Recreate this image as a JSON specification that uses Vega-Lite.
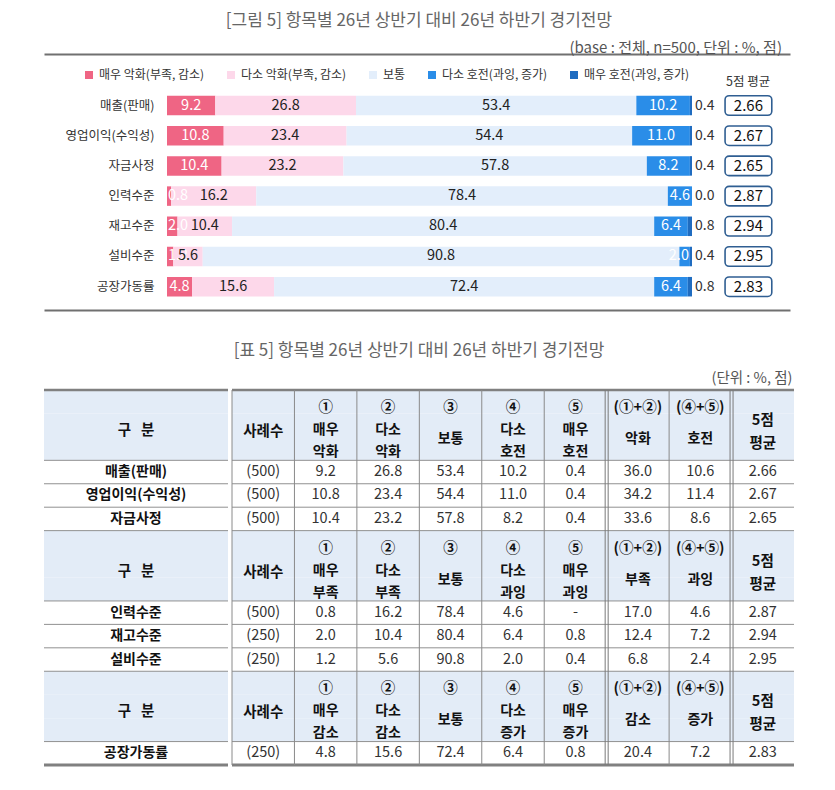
{
  "$schema": "https://vega.github.io/schema/vega-lite/v6.json",
  "padding": {"left": 42, "top": 12, "right": 0, "bottom": 0},
  "background": "white",
  "config": {
    "font": "Noto Sans CJK KR",
    "view": {"stroke": null},
    "title": {"font": "Noto Sans CJK KR", "fontWeight": "normal", "color": "#666666"},
    "concat": {"spacing": 0}
  },
  "datasets": {
    "bars": [
      {"item": "매출(판매)", "cat": "매우 악화(부족, 감소)", "order": 1, "value": 9.2},
      {"item": "매출(판매)", "cat": "다소 악화(부족, 감소)", "order": 2, "value": 26.8},
      {"item": "매출(판매)", "cat": "보통", "order": 3, "value": 53.4},
      {"item": "매출(판매)", "cat": "다소 호전(과잉, 증가)", "order": 4, "value": 10.2},
      {"item": "매출(판매)", "cat": "매우 호전(과잉, 증가)", "order": 5, "value": 0.4},
      {"item": "영업이익(수익성)", "cat": "매우 악화(부족, 감소)", "order": 1, "value": 10.8},
      {"item": "영업이익(수익성)", "cat": "다소 악화(부족, 감소)", "order": 2, "value": 23.4},
      {"item": "영업이익(수익성)", "cat": "보통", "order": 3, "value": 54.4},
      {"item": "영업이익(수익성)", "cat": "다소 호전(과잉, 증가)", "order": 4, "value": 11.0},
      {"item": "영업이익(수익성)", "cat": "매우 호전(과잉, 증가)", "order": 5, "value": 0.4},
      {"item": "자금사정", "cat": "매우 악화(부족, 감소)", "order": 1, "value": 10.4},
      {"item": "자금사정", "cat": "다소 악화(부족, 감소)", "order": 2, "value": 23.2},
      {"item": "자금사정", "cat": "보통", "order": 3, "value": 57.8},
      {"item": "자금사정", "cat": "다소 호전(과잉, 증가)", "order": 4, "value": 8.2},
      {"item": "자금사정", "cat": "매우 호전(과잉, 증가)", "order": 5, "value": 0.4},
      {"item": "인력수준", "cat": "매우 악화(부족, 감소)", "order": 1, "value": 0.8},
      {"item": "인력수준", "cat": "다소 악화(부족, 감소)", "order": 2, "value": 16.2},
      {"item": "인력수준", "cat": "보통", "order": 3, "value": 78.4},
      {"item": "인력수준", "cat": "다소 호전(과잉, 증가)", "order": 4, "value": 4.6},
      {"item": "인력수준", "cat": "매우 호전(과잉, 증가)", "order": 5, "value": 0.0},
      {"item": "재고수준", "cat": "매우 악화(부족, 감소)", "order": 1, "value": 2.0},
      {"item": "재고수준", "cat": "다소 악화(부족, 감소)", "order": 2, "value": 10.4},
      {"item": "재고수준", "cat": "보통", "order": 3, "value": 80.4},
      {"item": "재고수준", "cat": "다소 호전(과잉, 증가)", "order": 4, "value": 6.4},
      {"item": "재고수준", "cat": "매우 호전(과잉, 증가)", "order": 5, "value": 0.8},
      {"item": "설비수준", "cat": "매우 악화(부족, 감소)", "order": 1, "value": 1.2},
      {"item": "설비수준", "cat": "다소 악화(부족, 감소)", "order": 2, "value": 5.6},
      {"item": "설비수준", "cat": "보통", "order": 3, "value": 90.8},
      {"item": "설비수준", "cat": "다소 호전(과잉, 증가)", "order": 4, "value": 2.0},
      {"item": "설비수준", "cat": "매우 호전(과잉, 증가)", "order": 5, "value": 0.4},
      {"item": "공장가동률", "cat": "매우 악화(부족, 감소)", "order": 1, "value": 4.8},
      {"item": "공장가동률", "cat": "다소 악화(부족, 감소)", "order": 2, "value": 15.6},
      {"item": "공장가동률", "cat": "보통", "order": 3, "value": 72.4},
      {"item": "공장가동률", "cat": "다소 호전(과잉, 증가)", "order": 4, "value": 6.4},
      {"item": "공장가동률", "cat": "매우 호전(과잉, 증가)", "order": 5, "value": 0.8}
    ],
    "table": [
      {"item": "매출(판매)", "n": "(500)", "c1": "9.2", "c2": "26.8", "c3": "53.4", "c4": "10.2", "c5": "0.4", "s12": "36.0", "s45": "10.6", "avg": "2.66"},
      {"item": "영업이익(수익성)", "n": "(500)", "c1": "10.8", "c2": "23.4", "c3": "54.4", "c4": "11.0", "c5": "0.4", "s12": "34.2", "s45": "11.4", "avg": "2.67"},
      {"item": "자금사정", "n": "(500)", "c1": "10.4", "c2": "23.2", "c3": "57.8", "c4": "8.2", "c5": "0.4", "s12": "33.6", "s45": "8.6", "avg": "2.65"},
      {"item": "인력수준", "n": "(500)", "c1": "0.8", "c2": "16.2", "c3": "78.4", "c4": "4.6", "c5": "-", "s12": "17.0", "s45": "4.6", "avg": "2.87"},
      {"item": "재고수준", "n": "(250)", "c1": "2.0", "c2": "10.4", "c3": "80.4", "c4": "6.4", "c5": "0.8", "s12": "12.4", "s45": "7.2", "avg": "2.94"},
      {"item": "설비수준", "n": "(250)", "c1": "1.2", "c2": "5.6", "c3": "90.8", "c4": "2.0", "c5": "0.4", "s12": "6.8", "s45": "2.4", "avg": "2.95"},
      {"item": "공장가동률", "n": "(250)", "c1": "4.8", "c2": "15.6", "c3": "72.4", "c4": "6.4", "c5": "0.8", "s12": "20.4", "s45": "7.2", "avg": "2.83"}
    ],
    "rows": [
      {"key": "h1t", "kind": "htop"}, {"key": "h1", "kind": "hmid"}, {"key": "h1b", "kind": "hbot"},
      {"key": "매출(판매)", "kind": "item"}, {"key": "영업이익(수익성)", "kind": "item"}, {"key": "자금사정", "kind": "item"},
      {"key": "h2t", "kind": "htop"}, {"key": "h2", "kind": "hmid"}, {"key": "h2b", "kind": "hbot"},
      {"key": "인력수준", "kind": "item"}, {"key": "재고수준", "kind": "item"}, {"key": "설비수준", "kind": "item"},
      {"key": "h3t", "kind": "htop"}, {"key": "h3", "kind": "hmid"}, {"key": "h3b", "kind": "hbot"},
      {"key": "공장가동률", "kind": "item"}
    ],
    "headers": [
      {"sec": "h1", "col": "n", "mid": "사례수"},
      {"sec": "h1", "col": "c1", "sym": "①", "lab": "매우\n악화"},
      {"sec": "h1", "col": "c2", "sym": "②", "lab": "다소\n악화"},
      {"sec": "h1", "col": "c3", "sym": "③", "lab": "보통"},
      {"sec": "h1", "col": "c4", "sym": "④", "lab": "다소\n호전"},
      {"sec": "h1", "col": "c5", "sym": "⑤", "lab": "매우\n호전"},
      {"sec": "h1", "col": "s12", "sym": "(①+②)", "lab": "악화"},
      {"sec": "h1", "col": "s45", "sym": "(④+⑤)", "lab": "호전"},
      {"sec": "h1", "col": "avg", "mid": "5점\n평균"},
      {"sec": "h2", "col": "n", "mid": "사례수"},
      {"sec": "h2", "col": "c1", "sym": "①", "lab": "매우\n부족"},
      {"sec": "h2", "col": "c2", "sym": "②", "lab": "다소\n부족"},
      {"sec": "h2", "col": "c3", "sym": "③", "lab": "보통"},
      {"sec": "h2", "col": "c4", "sym": "④", "lab": "다소\n과잉"},
      {"sec": "h2", "col": "c5", "sym": "⑤", "lab": "매우\n과잉"},
      {"sec": "h2", "col": "s12", "sym": "(①+②)", "lab": "부족"},
      {"sec": "h2", "col": "s45", "sym": "(④+⑤)", "lab": "과잉"},
      {"sec": "h2", "col": "avg", "mid": "5점\n평균"},
      {"sec": "h3", "col": "n", "mid": "사례수"},
      {"sec": "h3", "col": "c1", "sym": "①", "lab": "매우\n감소"},
      {"sec": "h3", "col": "c2", "sym": "②", "lab": "다소\n감소"},
      {"sec": "h3", "col": "c3", "sym": "③", "lab": "보통"},
      {"sec": "h3", "col": "c4", "sym": "④", "lab": "다소\n증가"},
      {"sec": "h3", "col": "c5", "sym": "⑤", "lab": "매우\n증가"},
      {"sec": "h3", "col": "s12", "sym": "(①+②)", "lab": "감소"},
      {"sec": "h3", "col": "s45", "sym": "(④+⑤)", "lab": "증가"},
      {"sec": "h3", "col": "avg", "mid": "5점\n평균"}
    ]
  },
  "title": {"text": "[그림 5] 항목별 26년 상반기 대비 26년 하반기 경기전망", "fontSize": 17, "offset": 11, "anchor": "middle"},
  "spacing": 32,
  "vconcat": [
    {
      "title": {"text": "(base : 전체, n=500, 단위 : %, 점)", "anchor": "end", "fontSize": 15, "color": "#555555", "offset": -2, "dx": -8},
      "width": 746,
      "height": 256,
      "layer": [
        {
          "data": {"name": "bars"},
          "transform": [{"stack": "value", "groupby": ["item"], "sort": [{"field": "order", "order": "ascending"}], "as": ["v0", "v1"]}],
          "mark": {"type": "bar"},
          "encoding": {
            "x": {"field": "v0", "type": "quantitative", "scale": {"domain": [-23.43, 118.67], "zero": false, "nice": false},
                  "axis": {"orient": "top", "domain": true, "domainColor": "#707070", "domainWidth": 2, "ticks": false, "labels": false, "grid": false, "title": null}},
            "x2": {"field": "v1"},
            "y": {"field": "item", "type": "nominal", "sort": null,
                  "scale": {"type": "band", "domain": ["매출(판매)", "영업이익(수익성)", "자금사정", "인력수준", "재고수준", "설비수준", "공장가동률"], "paddingInner": 0.354, "paddingOuter": 0.9156, "align": 0.755},
                  "axis": {"title": null, "ticks": false, "domain": false, "offset": -123, "labelPadding": 13, "labelFontSize": 12.5, "labelColor": "#333333", "labelFont": "Noto Sans CJK KR"}},
            "color": {"field": "cat", "type": "nominal",
                      "scale": {"domain": ["매우 악화(부족, 감소)", "다소 악화(부족, 감소)", "보통", "다소 호전(과잉, 증가)", "매우 호전(과잉, 증가)"], "range": ["#ef6584", "#fdd8ea", "#e3eefb", "#2a8de8", "#1f6cc0"]},
                      "legend": {"orient": "none", "legendX": 39, "legendY": 15, "direction": "horizontal", "columns": 5, "title": null, "symbolType": "square", "symbolSize": 64, "symbolStrokeWidth": 0, "labelFontSize": 12, "labelColor": "#333333", "labelFont": "Noto Sans CJK KR", "columnPadding": 20, "labelOffset": 4, "padding": 0}}
          }
        },
        {
          "data": {"name": "bars"},
          "transform": [
            {"stack": "value", "groupby": ["item"], "sort": [{"field": "order", "order": "ascending"}], "as": ["v0", "v1"]},
            {"filter": "datum.order < 5"},
            {"calculate": "datum.order === 1 ? max((datum.v0 + datum.v1) / 2, 2.1) : (datum.order === 4 ? min((datum.v0 + datum.v1) / 2, datum.v1 - 2.1) : (datum.v0 + datum.v1) / 2)", "as": "mid"}
          ],
          "mark": {"type": "text", "fontSize": 14.5},
          "encoding": {
            "x": {"field": "mid", "type": "quantitative",
                  "axis": {"orient": "bottom", "domain": true, "domainColor": "#707070", "domainWidth": 2, "ticks": false, "labels": false, "grid": false, "title": null}},
            "y": {"field": "item", "type": "nominal", "sort": null},
            "text": {"field": "value", "type": "quantitative", "format": ".1f"},
            "color": {"condition": {"test": "datum.order === 1 || datum.order === 4", "value": "#ffffff"}, "value": "#222222"}
          }
        },
        {
          "data": {"name": "bars"},
          "transform": [
            {"stack": "value", "groupby": ["item"], "sort": [{"field": "order", "order": "ascending"}], "as": ["v0", "v1"]},
            {"filter": "datum.order === 5"}
          ],
          "mark": {"type": "text", "align": "left", "dx": 3, "fontSize": 14, "color": "#333333"},
          "encoding": {
            "x": {"field": "v1", "type": "quantitative", "axis": null},
            "y": {"field": "item", "type": "nominal", "sort": null},
            "text": {"field": "value", "type": "quantitative", "format": ".1f"}
          }
        },
        {
          "data": {"name": "table"},
          "mark": {"type": "rect", "fill": "#ffffff", "stroke": "#2f5e92", "strokeWidth": 1.6, "cornerRadius": 4},
          "encoding": {
            "x": {"datum": 106.3, "type": "quantitative", "axis": null},
            "x2": {"datum": 115.2},
            "y": {"field": "item", "type": "nominal", "sort": null}
          }
        },
        {
          "data": {"name": "table"},
          "mark": {"type": "text", "fontSize": 15, "color": "#111111"},
          "encoding": {
            "x": {"datum": 110.75, "type": "quantitative", "axis": null},
            "y": {"field": "item", "type": "nominal", "sort": null},
            "text": {"field": "avg", "type": "nominal"}
          }
        },
        {
          "data": {"values": [{"label": "5점 평균"}]},
          "mark": {"type": "text", "fontSize": 12.5, "color": "#333333", "dy": -24},
          "encoding": {
            "x": {"datum": 110.7, "type": "quantitative", "axis": null},
            "y": {"datum": "매출(판매)", "type": "nominal"},
            "text": {"field": "label", "type": "nominal"}
          }
        }
      ],
      "resolve": {"axis": {"x": "independent"}}
    },
    {
      "title": {"text": "[표 5] 항목별 26년 상반기 대비 26년 하반기 경기전망", "fontSize": 17, "offset": 11, "anchor": "middle"},
      "vconcat": [
        {
          "title": {"text": "(단위 : %, 점)", "anchor": "end", "fontSize": 14.5, "color": "#555555", "offset": 2, "dx": -3},
          "spacing": 0,
          "hconcat": [
            {
              "width": 184,
              "height": 375,
              "data": {"name": "rows"},
              "layer": [
                {
                  "transform": [{"filter": "datum.kind !== 'item'"}],
                  "mark": {"type": "rect", "color": "#e3ecf7"},
                  "encoding": {"y": {"field": "key", "type": "nominal", "sort": null, "axis": null,
                    "scale": {"type": "band", "domain": ["h1t", "h1", "h1b", "매출(판매)", "영업이익(수익성)", "자금사정", "h2t", "h2", "h2b", "인력수준", "재고수준", "설비수준", "h3t", "h3", "h3b", "공장가동률"], "paddingInner": 0, "paddingOuter": 0}}}
                },
                {
                  "transform": [{"filter": "datum.kind === 'item' || datum.kind === 'htop'"}],
                  "mark": {"type": "rule", "color": "#909090", "strokeWidth": 1},
                  "encoding": {"y": {"field": "key", "type": "nominal", "sort": null, "bandPosition": 0}}
                },
                {
                  "transform": [{"filter": "datum.key === 'h1t'"}],
                  "mark": {"type": "rule", "color": "#808080", "strokeWidth": 2.5},
                  "encoding": {"y": {"field": "key", "type": "nominal", "sort": null, "bandPosition": 0}}
                },
                {
                  "transform": [{"filter": "datum.key === '공장가동률'"}],
                  "mark": {"type": "rule", "color": "#808080", "strokeWidth": 3},
                  "encoding": {"y": {"field": "key", "type": "nominal", "sort": null, "bandPosition": 1}}
                },
                {
                  "transform": [{"filter": "datum.kind === 'item'"}],
                  "mark": {"type": "text", "fontSize": 14, "fontWeight": "bold", "color": "#111111"},
                  "encoding": {"y": {"field": "key", "type": "nominal", "sort": null}, "text": {"field": "key", "type": "nominal"}}
                },
                {
                  "transform": [{"filter": "datum.kind === 'hmid'"}],
                  "mark": {"type": "text", "fontSize": 14.5, "fontWeight": "bold", "color": "#111111", "dy": 6},
                  "encoding": {"y": {"field": "key", "type": "nominal", "sort": null}, "text": {"value": "구 \u00a0 분"}}
                }
              ]
            },
            {
              "width": 562,
              "height": 375,
              "layer": [
                {
                  "data": {"name": "rows"},
                  "transform": [{"filter": "datum.kind !== 'item'"}],
                  "mark": {"type": "rect", "color": "#e3ecf7"},
                  "encoding": {"y": {"field": "key", "type": "nominal", "sort": null, "axis": null,
                    "scale": {"type": "band", "domain": ["h1t", "h1", "h1b", "매출(판매)", "영업이익(수익성)", "자금사정", "h2t", "h2", "h2b", "인력수준", "재고수준", "설비수준", "h3t", "h3", "h3b", "공장가동률"], "paddingInner": 0, "paddingOuter": 0}}}
                },
                {
                  "data": {"name": "rows"},
                  "transform": [{"filter": "datum.kind === 'item' || datum.kind === 'htop'"}],
                  "mark": {"type": "rule", "color": "#909090", "strokeWidth": 1},
                  "encoding": {"y": {"field": "key", "type": "nominal", "sort": null, "bandPosition": 0}}
                },
                {
                  "data": {"name": "rows"},
                  "transform": [{"filter": "datum.key === 'h1t'"}],
                  "mark": {"type": "rule", "color": "#808080", "strokeWidth": 2.5},
                  "encoding": {"y": {"field": "key", "type": "nominal", "sort": null, "bandPosition": 0}}
                },
                {
                  "data": {"name": "rows"},
                  "transform": [{"filter": "datum.key === '공장가동률'"}],
                  "mark": {"type": "rule", "color": "#808080", "strokeWidth": 3},
                  "encoding": {"y": {"field": "key", "type": "nominal", "sort": null, "bandPosition": 1}}
                },
                {
                  "data": {"name": "headers"},
                  "transform": [{"filter": "datum.sec === 'h1' && datum.col !== 's12' && datum.col !== 'avg'"}],
                  "mark": {"type": "rule", "color": "#8a8a8a", "strokeWidth": 1},
                  "encoding": {"x": {"field": "col", "type": "nominal", "sort": null, "axis": null, "bandPosition": 0,
                    "scale": {"type": "band", "domain": ["n", "c1", "c2", "c3", "c4", "c5", "s12", "s45", "avg"], "paddingInner": 0, "paddingOuter": 0}}}
                },
                {
                  "data": {"name": "headers"},
                  "transform": [{"filter": "datum.sec === 'h1' && (datum.col === 's12' || datum.col === 'avg')"}],
                  "mark": {"type": "rule", "color": "#7a7a7a", "strokeWidth": 1, "xOffset": -1.5},
                  "encoding": {"x": {"field": "col", "type": "nominal", "sort": null, "bandPosition": 0}}
                },
                {
                  "data": {"name": "headers"},
                  "transform": [{"filter": "datum.sec === 'h1' && (datum.col === 's12' || datum.col === 'avg')"}],
                  "mark": {"type": "rule", "color": "#7a7a7a", "strokeWidth": 1, "xOffset": 1.5},
                  "encoding": {"x": {"field": "col", "type": "nominal", "sort": null, "bandPosition": 0}}
                },
                {
                  "data": {"name": "headers"},
                  "transform": [{"filter": "datum.sym"}],
                  "mark": {"type": "text", "fontSize": 14.5, "fontWeight": "bold", "color": "#111111", "dy": -17},
                  "encoding": {"x": {"field": "col", "type": "nominal", "sort": null}, "y": {"field": "sec", "type": "nominal", "sort": null}, "text": {"field": "sym", "type": "nominal"}}
                },
                {
                  "data": {"name": "headers"},
                  "transform": [{"filter": "datum.lab && datum.lab.length > 2"}],
                  "mark": {"type": "text", "fontSize": 14, "fontWeight": "bold", "color": "#111111", "dy": 5, "lineBreak": "\n", "lineHeight": 22},
                  "encoding": {"x": {"field": "col", "type": "nominal", "sort": null}, "y": {"field": "sec", "type": "nominal", "sort": null}, "text": {"field": "lab", "type": "nominal"}}
                },
                {
                  "data": {"name": "headers"},
                  "transform": [{"filter": "datum.lab && datum.lab.length <= 2"}],
                  "mark": {"type": "text", "fontSize": 14, "fontWeight": "bold", "color": "#111111", "dy": 14},
                  "encoding": {"x": {"field": "col", "type": "nominal", "sort": null}, "y": {"field": "sec", "type": "nominal", "sort": null}, "text": {"field": "lab", "type": "nominal"}}
                },
                {
                  "data": {"name": "headers"},
                  "transform": [{"filter": "datum.mid && datum.mid.length > 3"}],
                  "mark": {"type": "text", "fontSize": 14.5, "fontWeight": "bold", "color": "#111111", "dy": -4, "lineBreak": "\n", "lineHeight": 23},
                  "encoding": {"x": {"field": "col", "type": "nominal", "sort": null}, "y": {"field": "sec", "type": "nominal", "sort": null}, "text": {"field": "mid", "type": "nominal"}}
                },
                {
                  "data": {"name": "headers"},
                  "transform": [{"filter": "datum.mid && datum.mid.length <= 3"}],
                  "mark": {"type": "text", "fontSize": 14.5, "fontWeight": "bold", "color": "#111111", "dy": 7},
                  "encoding": {"x": {"field": "col", "type": "nominal", "sort": null}, "y": {"field": "sec", "type": "nominal", "sort": null}, "text": {"field": "mid", "type": "nominal"}}
                },
                {
                  "data": {"name": "table"},
                  "transform": [{"fold": ["n", "c1", "c2", "c3", "c4", "c5", "s12", "s45", "avg"], "as": ["col", "txt"]}],
                  "mark": {"type": "text", "fontSize": 14.5, "color": "#333333"},
                  "encoding": {"x": {"field": "col", "type": "nominal", "sort": null}, "y": {"field": "item", "type": "nominal", "sort": null}, "text": {"field": "txt", "type": "nominal"}}
                }
              ]
            }
          ]
        }
      ]
    }
  ]
}
